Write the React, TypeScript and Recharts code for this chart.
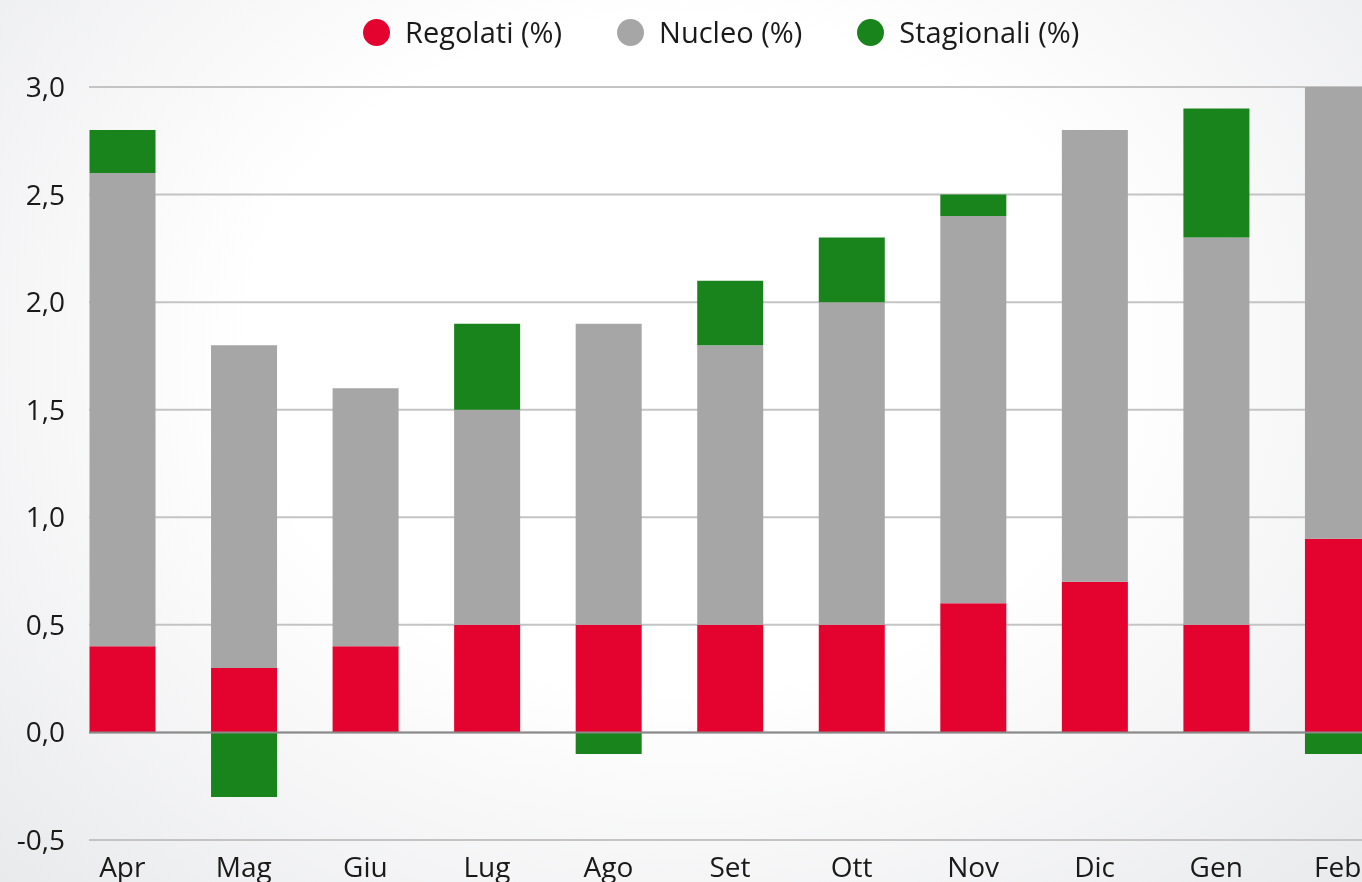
import { BarChart, Bar, XAxis, YAxis, CartesianGrid, ReferenceLine } from "recharts";

const months = ["Apr", "Mag", "Giu", "Lug", "Ago", "Set", "Ott", "Nov", "Dic", "Gen", "Feb"];
const regolati = [0.4, 0.3, 0.4, 0.5, 0.5, 0.5, 0.5, 0.6, 0.7, 0.5, 0.9];
const nucleo = [2.2, 1.5, 1.2, 1.0, 1.4, 1.3, 1.5, 1.8, 2.1, 1.8, 2.1];
const stagionali = [0.2, -0.3, 0, 0.4, -0.1, 0.3, 0.3, 0.1, 0, 0.6, -0.1];
const yTicks = [-0.5, 0, 0.5, 1.0, 1.5, 2.0, 2.5, 3.0];

const series = [
  { key: "regolati", name: "Regolati (%)", color: "#e4032e" },
  { key: "nucleo", name: "Nucleo (%)", color: "#a6a6a6" },
  { key: "stagionali", name: "Stagionali (%)", color: "#19831c" },
];

const chartData = months.map((m, i) => ({
  month: m,
  regolati: regolati[i],
  nucleo: nucleo[i],
  stagionali: stagionali[i],
}));

const fmt = (v: number) => v.toFixed(1).replace(".", ",");
const FONT = "'Open Sans', sans-serif";

// legend kept outside the chart so it doesn't push the plot down
function LegendRow() {
  return (
    <div
      style={{
        position: "absolute",
        left: 363,
        top: 14,
        display: "flex",
        alignItems: "center",
        fontFamily: FONT,
        fontSize: 29,
        color: "#1a1a1a",
        lineHeight: "36px",
        whiteSpace: "nowrap",
      }}
    >
      {series.map((s, i) => (
        <div key={s.key} style={{ display: "flex", alignItems: "center", marginLeft: i === 0 ? 0 : 55 }}>
          <span style={{ width: 27, height: 27, borderRadius: "50%", background: s.color, display: "inline-block" }} />
          <span style={{ marginLeft: 15 }}>{s.name}</span>
        </div>
      ))}
    </div>
  );
}

export default function App() {
  return (
    <div
      style={{
        position: "fixed",
        left: 0,
        top: 0,
        width: 1362,
        height: 882,
        overflow: "hidden",
        background: "radial-gradient(ellipse at 50% 40%, #ffffff 45%, #e9eaec 100%)",
      }}
    >
      <div style={{ position: "absolute", left: 0, top: 0 }}>
        <BarChart
          width={1371}
          height={882}
          data={chartData}
          stackOffset="sign"
          barSize={66}
          margin={{ top: 87, right: 0, bottom: 0, left: 0 }}
        >
          <CartesianGrid vertical={false} stroke="#c4c4c4" strokeWidth={2} />
          <XAxis
            dataKey="month"
            height={42}
            axisLine={false}
            tickLine={false}
            tickMargin={11}
            padding={{ left: -27.5, right: -27.5 }}
            tick={{ fill: "#1a1a1a", fontSize: 28, fontFamily: FONT }}
          />
          <YAxis
            width={89}
            domain={[-0.5, 3.0]}
            ticks={yTicks}
            allowDataOverflow
            axisLine={false}
            tickLine={false}
            tickMargin={18}
            tickFormatter={fmt}
            tick={{ fill: "#1a1a1a", fontSize: 28, fontFamily: FONT }}
          />
          {series.map((s) => (
            <Bar key={s.key} dataKey={s.key} name={s.name} stackId="a" fill={s.color} isAnimationActive={false} />
          ))}
          <ReferenceLine y={0} stroke="#8a8a8a" strokeWidth={2} />
        </BarChart>
      </div>
      <LegendRow />
    </div>
  );
}
